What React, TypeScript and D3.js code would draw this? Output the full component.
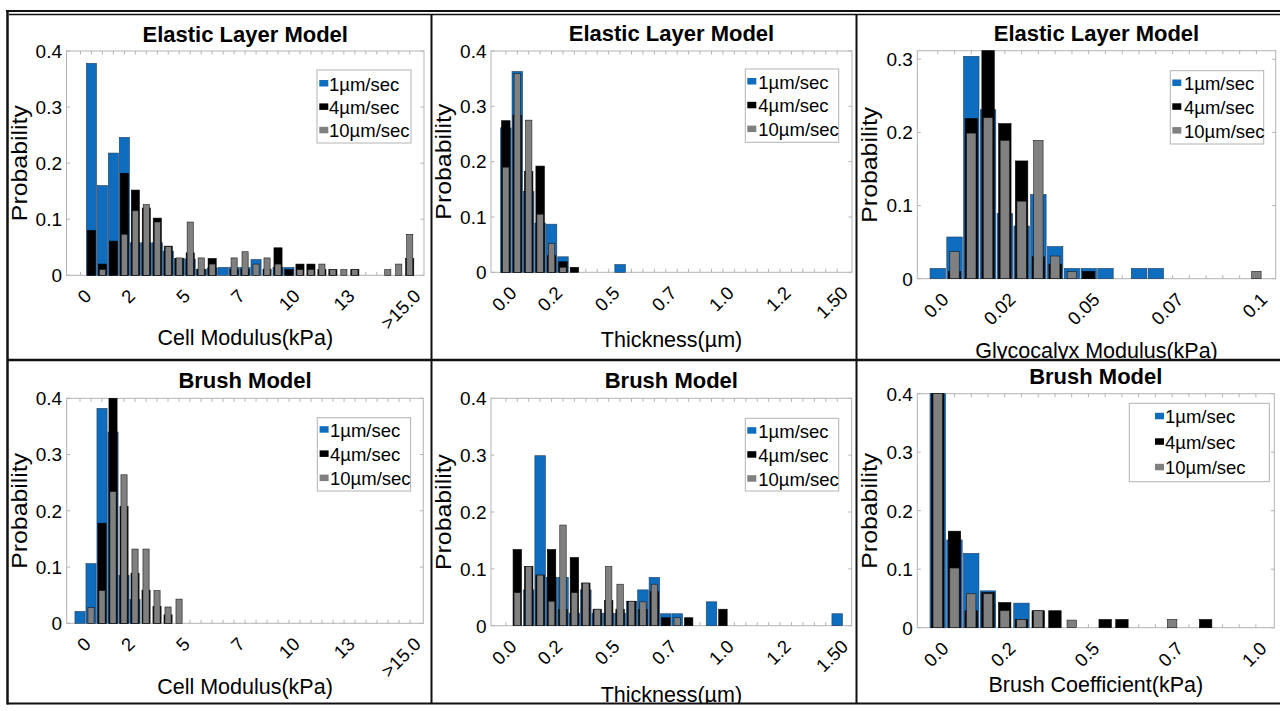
import React from 'react';
import * as d3 from 'd3';

// ---------- data ----------
const SERIES = ['1µm/sec', '4µm/sec', '10µm/sec'];

// Elastic Layer Model – cell modulus (31 bins)
const elCellBlue = [0, .378, .16, .218, .246, .058, .058, .058, .043, .03, .029, .01, .013, .014, .014, .014, .028, 0, .014, .014, 0, 0, 0, 0, 0, 0, 0, 0, 0, 0, 0];
const elCellBlack = [0, .08, .02, .061, .182, .152, .12, .102, .052, .03, .04, .011, .03, 0, .01, .01, 0, .011, .049, .01, .02, .02, .01, .01, 0, .01, 0, 0, 0, 0, .03];
const elCellGray = [0, 0, .01, 0, .073, .115, .126, .095, .051, .031, .095, .031, .02, 0, .031, .042, .02, .031, .02, 0, .01, .01, .02, .01, .01, .01, 0, 0, .01, .02, .073];

// Elastic Layer Model – thickness (30 bins)
const elThkBlue = [.261, .363, .146, .089, .087, .028, 0, 0, 0, 0, .014, 0, 0, 0, 0, 0, 0, 0, 0, 0, 0, 0, 0, 0, 0, 0, 0, 0, 0, 0];
const elThkBlack = [.274, .284, .182, .192, .03, .019, .009, 0, 0, 0, 0, 0, 0, 0, 0, 0, 0, 0, 0, 0, 0, 0, 0, 0, 0, 0, 0, 0, 0, 0];
const elThkGray = [.19, .359, .275, .105, .052, .009, 0, 0, 0, 0, 0, 0, 0, 0, 0, 0, 0, 0, 0, 0, 0, 0, 0, 0, 0, 0, 0, 0, 0, 0];

// Elastic Layer Model – glycocalyx modulus (20 bins)
const elGlyBlue = [.014, .057, .304, .231, .089, .072, .115, .044, .014, .014, .014, 0, .014, .014, 0, 0, 0, 0, 0, 0];
const elGlyBlack = [0, .01, .219, .32, .212, .161, .03, .02, 0, .01, 0, 0, 0, 0, 0, 0, 0, 0, 0, 0];
const elGlyGray = [0, .037, .199, .22, .189, .106, .189, .031, .01, 0, 0, 0, 0, 0, 0, 0, 0, 0, 0, .01];

// Brush Model – cell modulus (31 bins)
const brCellBlue = [.021, .106, .382, .34, .085, .042, 0, 0, 0, 0, 0, 0, 0, 0, 0, 0, 0, 0, 0, 0, 0, 0, 0, 0, 0, 0, 0, 0, 0, 0, 0];
const brCellBlack = [0, 0, .178, .41, .208, .089, .059, .03, .015, 0, 0, 0, 0, 0, 0, 0, 0, 0, 0, 0, 0, 0, 0, 0, 0, 0, 0, 0, 0, 0, 0];
const brCellGray = [0, .028, .058, .234, .264, .132, .132, .058, .029, .043, 0, 0, 0, 0, 0, 0, 0, 0, 0, 0, 0, 0, 0, 0, 0, 0, 0, 0, 0, 0, 0];

// Brush Model – thickness (30 bins)
const brThkBlue = [0, 0, .063, .299, .085, .085, .022, .063, .022, .022, .022, .043, .063, .085, .021, .021, 0, 0, .042, 0, 0, 0, 0, 0, 0, 0, 0, 0, 0, .021];
const brThkBlack = [0, .134, .104, .089, .134, .029, .12, .075, .029, .044, .029, .043, .029, .06, .014, 0, .014, 0, 0, .029, 0, 0, 0, 0, 0, 0, 0, 0, 0, 0];
const brThkGray = [0, .058, .104, .089, .043, .177, .058, .075, .029, .104, .073, .043, .042, .073, 0, .014, 0, 0, 0, 0, 0, 0, 0, 0, 0, 0, 0, 0, 0, 0];

// Brush Model – brush coefficient (20 bins)
const brCoefBlue = [.45, .15, .127, .063, 0, .042, 0, 0, 0, 0, 0, 0, 0, 0, 0, 0, 0, 0, 0, 0];
const brCoefBlack = [.45, .165, .029, .06, .043, .014, .029, .029, 0, 0, .014, .014, 0, 0, 0, 0, .014, 0, 0, 0];
const brCoefGray = [.45, .102, .058, .058, .029, .014, .029, 0, .013, 0, 0, 0, 0, 0, .014, 0, 0, 0, 0, 0];

// tick labels and their bin positions
const cellTickLabels = ['0', '2', '5', '7', '10', '13', '>15.0'];
const cellTickBins = [0, 4, 9, 14, 19, 24, 30];
const thkTickLabels = ['0.0', '0.2', '0.5', '0.7', '1.0', '1.2', '1.50'];
const thkTickBins = [0, 4, 9, 14, 19, 24, 29];
const glyTickLabels = ['0.0', '0.02', '0.05', '0.07', '0.1'];
const coefTickLabels = ['0.0', '0.2', '0.5', '0.7', '1.0'];
const shortTickBins = [0, 4, 9, 14, 19];
const yTicks4 = [0, 0.1, 0.2, 0.3, 0.4];
const yTicks3 = [0, 0.1, 0.2, 0.3];

// ---------- styling ----------
const COLORS = ['#0f6dbf', '#000000', '#808080'];
const STROKES = ['#1d3d5e', '#000000', '#1a1a1a'];
const WIDTHS = [0.92, 0.74, 0.56];
const FONT = '"Liberation Sans", Arial, Helvetica, sans-serif';
const AXC = '#b3b3b3';
const TXT = '#000';

type Legend = { x: number; y: number; w: number; h: number; sx: number; tx: number; b0: number; step: number };
type Cfg = {
  title: string; xlabel: string; series: number[][]; xDomain: [number, number]; yMax: number;
  left: number; right: number; top: number; bottom: number; titleY: number; xlabelY: number;
  tickLabels: string[]; tickBins: number[]; yTicks: number[]; legend: Legend; clip: [number, number, number, number];
};

const panels: Cfg[] = [
  {
    title: 'Elastic Layer Model', xlabel: 'Cell Modulus(kPa)', series: [elCellBlue, elCellBlack, elCellGray],
    xDomain: [-1.27, 31.3], yMax: 0.4, left: 66.5, right: 424, top: 51, bottom: 275.3, titleY: 41.5, xlabelY: 344.5,
    tickLabels: cellTickLabels, tickBins: cellTickBins, yTicks: yTicks4,
    legend: { x: 317, y: 70, w: 94, h: 73, sx: 2.3, tx: 12, b0: 20.5, step: 23.4 }, clip: [9, 15, 431, 359],
  },
  {
    title: 'Elastic Layer Model', xlabel: 'Thickness(µm)', series: [elThkBlue, elThkBlack, elThkGray],
    xDomain: [-1.3, 30.3], yMax: 0.4, left: 491, right: 852, top: 51, bottom: 272.3, titleY: 40.7, xlabelY: 346.5,
    tickLabels: thkTickLabels, tickBins: thkTickBins, yTicks: yTicks4,
    legend: { x: 745.3, y: 69, w: 93.4, h: 73.3, sx: 2, tx: 13, b0: 19.5, step: 23.8 }, clip: [432, 15, 856, 359],
  },
  {
    title: 'Elastic Layer Model', xlabel: 'Glycocalyx Modulus(kPa)', series: [elGlyBlue, elGlyBlack, elGlyGray],
    xDomain: [-1.22, 20.15], yMax: 0.3117, left: 917.3, right: 1275.7, top: 50.7, bottom: 278.7, titleY: 40.7, xlabelY: 357.5,
    tickLabels: glyTickLabels, tickBins: shortTickBins, yTicks: yTicks3,
    legend: { x: 1170.3, y: 70.7, w: 93.4, h: 73.3, sx: 2, tx: 13.7, b0: 19.3, step: 23.8 }, clip: [857, 15, 1280, 359],
  },
  {
    title: 'Brush Model', xlabel: 'Cell Modulus(kPa)', series: [brCellBlue, brCellBlack, brCellGray],
    xDomain: [-1.21, 31.2], yMax: 0.4, left: 66.7, right: 423.3, top: 398.3, bottom: 623.3, titleY: 388.3, xlabelY: 693.5,
    tickLabels: cellTickLabels, tickBins: cellTickBins, yTicks: yTicks4,
    legend: { x: 317.3, y: 417.7, w: 93.3, h: 73.3, sx: 2.3, tx: 12.7, b0: 19, step: 24.2 }, clip: [9, 361, 431, 703],
  },
  {
    title: 'Brush Model', xlabel: 'Thickness(µm)', series: [brThkBlue, brThkBlack, brThkGray],
    xDomain: [-1.3, 30.27], yMax: 0.4, left: 491, right: 851.7, top: 398.3, bottom: 625.7, titleY: 388.3, xlabelY: 701.5,
    tickLabels: thkTickLabels, tickBins: thkTickBins, yTicks: yTicks4,
    legend: { x: 745.3, y: 418.3, w: 93.4, h: 72.7, sx: 2, tx: 13, b0: 19.4, step: 24 }, clip: [432, 361, 856, 703],
  },
  {
    title: 'Brush Model', xlabel: 'Brush Coefficient(kPa)', series: [brCoefBlue, brCoefBlack, brCoefGray],
    xDomain: [-1.22, 20.1], yMax: 0.4, left: 917.3, right: 1274.3, top: 393.7, bottom: 627.7, titleY: 384.3, xlabelY: 691.5,
    tickLabels: coefTickLabels, tickBins: shortTickBins, yTicks: yTicks4,
    legend: { x: 1129.3, y: 403.3, w: 140, h: 78.4, sx: 25.7, tx: 35.7, b0: 20, step: 25.5 }, clip: [857, 361, 1280, 703],
  },
];

function Panel({ cfg, idx }: { cfg: Cfg; idx: number }) {
  const x = d3.scaleLinear().domain(cfg.xDomain).range([cfg.left, cfg.right]);
  const y = d3.scaleLinear().domain([0, cfg.yMax]).range([cfg.bottom, cfg.top]).clamp(true);
  const step = x(1) - x(0);
  const n = cfg.series[0].length;
  const bins = d3.range(n);
  const cx = (cfg.left + cfg.right) / 2;
  const cy = (cfg.top + cfg.bottom) / 2;
  const L = cfg.legend;
  const fmtY = (v: number) => (v === 0 ? '0' : d3.format('.1f')(v));
  const [c0, c1, c2, c3] = cfg.clip;
  return (
    <g clipPath={`url(#clip${idx})`}>
      <defs>
        <clipPath id={`clip${idx}`}>
          <rect x={c0} y={c1} width={c2 - c0} height={c3 - c1} />
        </clipPath>
      </defs>
      {/* axes box */}
      <rect x={cfg.left} y={cfg.top} width={cfg.right - cfg.left} height={cfg.bottom - cfg.top} fill="#fff" stroke={AXC} strokeWidth={1} />
      {bins.map((i) => (
        <g key={'xt' + i}>
          <line x1={x(i)} x2={x(i)} y1={cfg.bottom} y2={cfg.bottom - 3.5} stroke={AXC} strokeWidth={1} />
          <line x1={x(i)} x2={x(i)} y1={cfg.top} y2={cfg.top + 3.5} stroke={AXC} strokeWidth={1} />
        </g>
      ))}
      {cfg.yTicks.map((t) => (
        <g key={'yt' + t}>
          <line x1={cfg.left} x2={cfg.left + 3.5} y1={y(t)} y2={y(t)} stroke={AXC} strokeWidth={1} />
          <line x1={cfg.right} x2={cfg.right - 3.5} y1={y(t)} y2={y(t)} stroke={AXC} strokeWidth={1} />
          <text x={cfg.left - 4.5} y={y(t)} dy="0.36em" textAnchor="end" fontSize={19} fontFamily={FONT} fill={TXT}>
            {fmtY(t)}
          </text>
        </g>
      ))}
      {/* bars */}
      {cfg.series.map((vals, s) => (
        <g key={'s' + s}>
          {vals.map((v, i) =>
            v > 0 ? (
              <rect
                key={i}
                x={x(i) - (WIDTHS[s] * step) / 2}
                width={WIDTHS[s] * step}
                y={y(v)}
                height={y(0) - y(v)}
                fill={COLORS[s]}
                stroke={STROKES[s]}
                strokeWidth={0.6}
              />
            ) : null
          )}
        </g>
      ))}
      {/* x tick labels */}
      {cfg.tickLabels.map((lab, k) => (
        <text
          key={'xl' + k}
          transform={`translate(${x(cfg.tickBins[k]) + 12},${cfg.bottom + 22}) rotate(-45)`}
          textAnchor="end"
          fontSize={18.5}
          fontFamily={FONT}
          fill={TXT}
        >
          {lab}
        </text>
      ))}
      {/* title and labels */}
      <text x={cx} y={cfg.titleY} textAnchor="middle" fontSize={22} fontWeight="bold" fontFamily={FONT} fill="#000">
        {cfg.title}
      </text>
      <text x={cx} y={cfg.xlabelY} textAnchor="middle" fontSize={21.5} fontFamily={FONT} fill={TXT}>
        {cfg.xlabel}
      </text>
      <text
        transform={`translate(${cfg.left - 40},${cy}) rotate(-90)`}
        textAnchor="middle"
        fontSize={21.5}
        fontFamily={FONT}
        fill={TXT}
        textLength={116}
        lengthAdjust="spacingAndGlyphs"
      >
        Probability
      </text>
      {/* legend */}
      <rect x={L.x} y={L.y} width={L.w} height={L.h} fill="#fff" stroke={AXC} strokeWidth={1} />
      {SERIES.map((name, s) => (
        <g key={'lg' + s}>
          <rect x={L.x + L.sx} y={L.y + L.b0 + s * L.step - 10.5} width={9} height={6.5} fill={COLORS[s]} />
          <text x={L.x + L.tx} y={L.y + L.b0 + s * L.step} fontSize={18.5} fontFamily={FONT} fill={TXT}>
            {name}
          </text>
        </g>
      ))}
    </g>
  );
}

export default function App() {
  return (
    <svg width={1280} height={711} style={{ position: 'absolute', left: 0, top: 0, background: '#fff' }}>
      <rect x={0} y={0} width={1280} height={711} fill="#fff" />
      {panels.map((p, i) => (
        <Panel key={i} cfg={p} idx={i} />
      ))}
      {/* frame */}
      <g stroke="#111">
        <line x1={6} x2={1280} y1={11} y2={11} strokeWidth={2} />
        <line x1={9} x2={1280} y1={14.5} y2={14.5} strokeWidth={1.5} />
        <line x1={7.5} x2={7.5} y1={10} y2={704.5} strokeWidth={2.5} />
        <line x1={431.5} x2={431.5} y1={14} y2={704} strokeWidth={2} />
        <line x1={856.5} x2={856.5} y1={14} y2={704} strokeWidth={2} />
        <line x1={7} x2={1280} y1={360} y2={360} strokeWidth={2.5} />
        <line x1={7} x2={1280} y1={703.5} y2={703.5} strokeWidth={2} />
      </g>
    </svg>
  );
}
